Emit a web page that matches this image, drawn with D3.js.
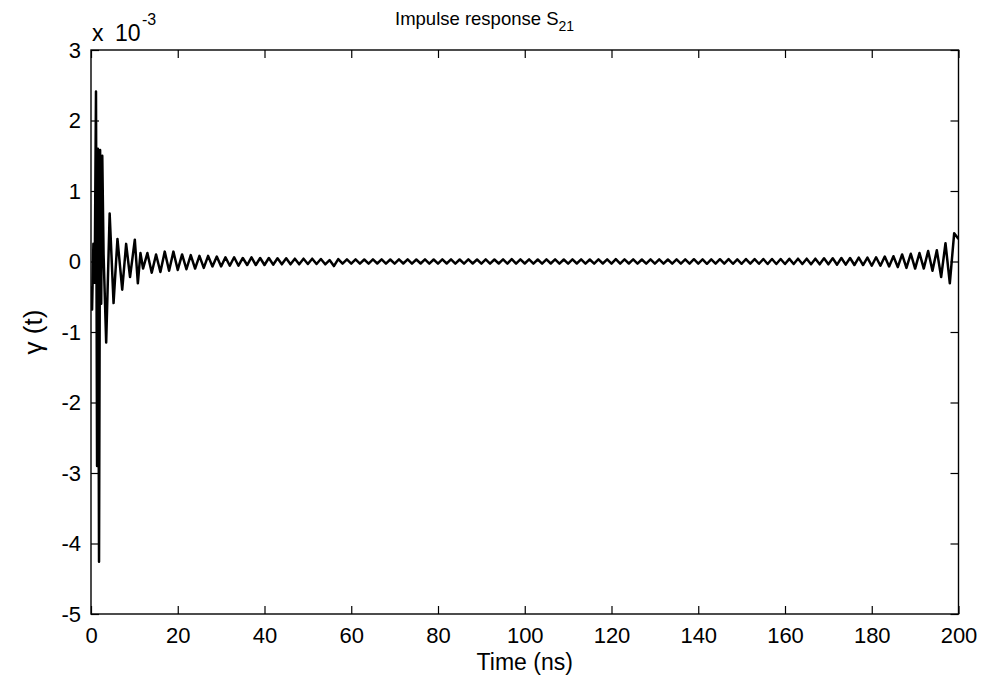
<!DOCTYPE html>
<html>
<head>
<meta charset="utf-8">
<script src="https://cdn.jsdelivr.net/npm/d3@7/dist/d3.min.js"></script>
<style>
  html, body { margin: 0; padding: 0; background: #ffffff; }
  svg { display: block; }
  text { font-family: Arial, "Liberation Sans", Helvetica, sans-serif; fill: #000; }
</style>
</head>
<body>
<svg id="chart" width="985" height="679"></svg>
<script>
// ---- Data (values in units of 1e-3) ----
const xTicks = [0, 20, 40, 60, 80, 100, 120, 140, 160, 180, 200];
const yTicks = [-5, -4, -3, -2, -1, 0, 1, 2, 3];
const titleMain = "Impulse response S";
const titleSub = "21";
const xLabel = "Time (ns)";
const yLabel = "\u03B3 (t)";

// Early part of the response (irregular times, ns)
const earlyTime  = [0, 0.25, 0.55, 0.85, 1.15, 1.4, 1.6, 1.85, 2.1, 2.35, 2.6, 2.9, 3.5, 4.3, 5.2, 6.1, 7.2, 8.1, 9.0, 10.1, 10.8, 11.4];
const earlyValue = [-0.35, -0.68, 0.25, -0.30, 2.41, -2.90, 1.60, -4.26, 1.58, -0.60, 1.50, 0.10, -1.15, 0.68, -0.59, 0.32, -0.40, 0.25, -0.22, 0.31, -0.31, 0.12];

// Tail part, sampled every 1 ns from 12 ns to 200 ns
const tailStart = 12;
const tailStep = 1;
const tailValue = [
  -0.10, 0.12, -0.16, 0.10, -0.15, 0.14, -0.13, 0.14, -0.12, 0.10,      // 12-21
  -0.11, 0.09, -0.10, 0.08, -0.09, 0.08, -0.07, 0.07, -0.07, 0.06,      // 22-31
  -0.06, 0.06, -0.06, 0.05, -0.05, 0.06, -0.05, 0.05, -0.05, 0.05,      // 32-41
  -0.045, 0.045, -0.04, 0.045, -0.04, 0.04, -0.04, 0.04, -0.035, 0.04,  // 42-51
  -0.035, 0.035, -0.04, 0.02, -0.065, 0.035, -0.03, 0.03, -0.03, 0.03,  // 52-61
  -0.03, 0.028, -0.03, 0.03, -0.028, 0.03, -0.03, 0.028, -0.03, 0.03,   // 62-71
  -0.028, 0.03, -0.03, 0.028, -0.028, 0.03, -0.03, 0.028, -0.03, 0.03,  // 72-81
  -0.028, 0.03, -0.03, 0.028, -0.03, 0.03, -0.028, 0.028, -0.03, 0.03,  // 82-91
  -0.03, 0.028, -0.028, 0.03, -0.03, 0.035, -0.03, 0.03, -0.028, 0.03,  // 92-101
  -0.03, 0.028, -0.03, 0.03, -0.028, 0.03, -0.03, 0.028, -0.03, 0.03,   // 102-111
  -0.028, 0.03, -0.03, 0.028, -0.03, 0.03, -0.028, 0.03, -0.03, 0.035,  // 112-121
  -0.03, 0.03, -0.028, 0.03, -0.03, 0.028, -0.03, 0.03, -0.03, 0.03,    // 122-131
  -0.03, 0.028, -0.03, 0.03, -0.03, 0.03, -0.03, 0.032, -0.03, 0.03,    // 132-141
  -0.032, 0.03, -0.03, 0.032, -0.03, 0.035, -0.032, 0.03, -0.032, 0.035,// 142-151
  -0.03, 0.035, -0.032, 0.035, -0.035, 0.035, -0.035, 0.035, -0.035, 0.038, // 152-161
  -0.035, 0.04, -0.035, 0.04, -0.038, 0.04, -0.04, 0.045, -0.04, 0.045, // 162-171
  -0.045, 0.05, -0.045, 0.05, -0.05, 0.055, -0.05, 0.055, -0.06, 0.06,  // 172-181
  -0.06, 0.07, -0.07, 0.075, -0.08, 0.10, -0.09, 0.11, -0.10, 0.12,     // 182-191
  -0.10, 0.15, -0.13, 0.16, -0.22, 0.26, -0.31, 0.40, 0.32              // 192-200
];

// ---- Layout ----
const W = 985, H = 679;
const L = 91, R = 958.5, T = 50, B = 614;

const svg = d3.select("#chart");

const x = d3.scaleLinear().domain([0, 200]).range([L, R]);
const y = d3.scaleLinear().domain([-5, 3]).range([B, T]);

const series = earlyTime.map((t, i) => ({ t, v: earlyValue[i] }))
  .concat(tailValue.map((v, i) => ({ t: tailStart + i * tailStep, v })));

// clip
svg.append("defs").append("clipPath").attr("id", "plotClip")
  .append("rect").attr("x", L).attr("y", T).attr("width", R - L).attr("height", B - T);

// white background
svg.append("rect").attr("x", 0).attr("y", 0).attr("width", W).attr("height", H).attr("fill", "#fff");

// data line
const line = d3.line().x(d => x(d.t)).y(d => y(d.v));
svg.append("path")
  .datum(series)
  .attr("clip-path", "url(#plotClip)")
  .attr("fill", "none")
  .attr("stroke", "#000")
  .attr("stroke-width", 2.5)
  .attr("stroke-linejoin", "round")
  .attr("d", line);

// axes (ticks inward, on all four sides)
const tickLen = 8;
const fs = 22;
const fmt = d => String(d);

const gB = svg.append("g").attr("transform", `translate(0,${B})`)
  .call(d3.axisBottom(x).tickValues(xTicks).tickSize(-tickLen).tickSizeOuter(0).tickPadding(13).tickFormat(fmt));
const gT = svg.append("g").attr("transform", `translate(0,${T})`)
  .call(d3.axisTop(x).tickValues(xTicks).tickSize(-tickLen).tickSizeOuter(0).tickFormat(""));
const gL = svg.append("g").attr("transform", `translate(${L},0)`)
  .call(d3.axisLeft(y).tickValues(yTicks).tickSize(-tickLen).tickSizeOuter(0).tickPadding(10).tickFormat(fmt));
const gR = svg.append("g").attr("transform", `translate(${R},0)`)
  .call(d3.axisRight(y).tickValues(yTicks).tickSize(-tickLen).tickSizeOuter(0).tickFormat(""));

[gB, gT, gL, gR].forEach(g => {
  g.select(".domain").remove();
  g.selectAll(".tick line").attr("stroke", "#000").attr("stroke-width", 1.2);
  g.selectAll(".tick text").attr("font-size", fs).attr("font-family", "Arial, 'Liberation Sans', sans-serif").attr("fill", "#000");
});

// box
svg.append("rect")
  .attr("x", L).attr("y", T).attr("width", R - L).attr("height", B - T)
  .attr("fill", "none").attr("stroke", "#000").attr("stroke-width", 1.4);

// exponent label
const expG = svg.append("g");
expG.append("text").attr("x", 92).attr("y", 41).attr("font-size", 23).text("x");
expG.append("text").attr("x", 115).attr("y", 41).attr("font-size", 23).text("10");
expG.append("text").attr("x", 142).attr("y", 25).attr("font-size", 16).text("-3");

// title
const title = svg.append("text").attr("x", 395).attr("y", 25).attr("font-size", 18.5);
title.append("tspan").text(titleMain);
title.append("tspan").attr("font-size", 14).attr("dy", 6).text(titleSub);

// x label
svg.append("text").attr("x", (L + R) / 2).attr("y", 670).attr("text-anchor", "middle")
  .attr("font-size", 23).text(xLabel);

// y label
svg.append("text")
  .attr("transform", `translate(42,${(T + B) / 2}) rotate(-90)`)
  .attr("text-anchor", "middle")
  .attr("font-size", 26)
  .text(yLabel);
</script>
</body>
</html>
